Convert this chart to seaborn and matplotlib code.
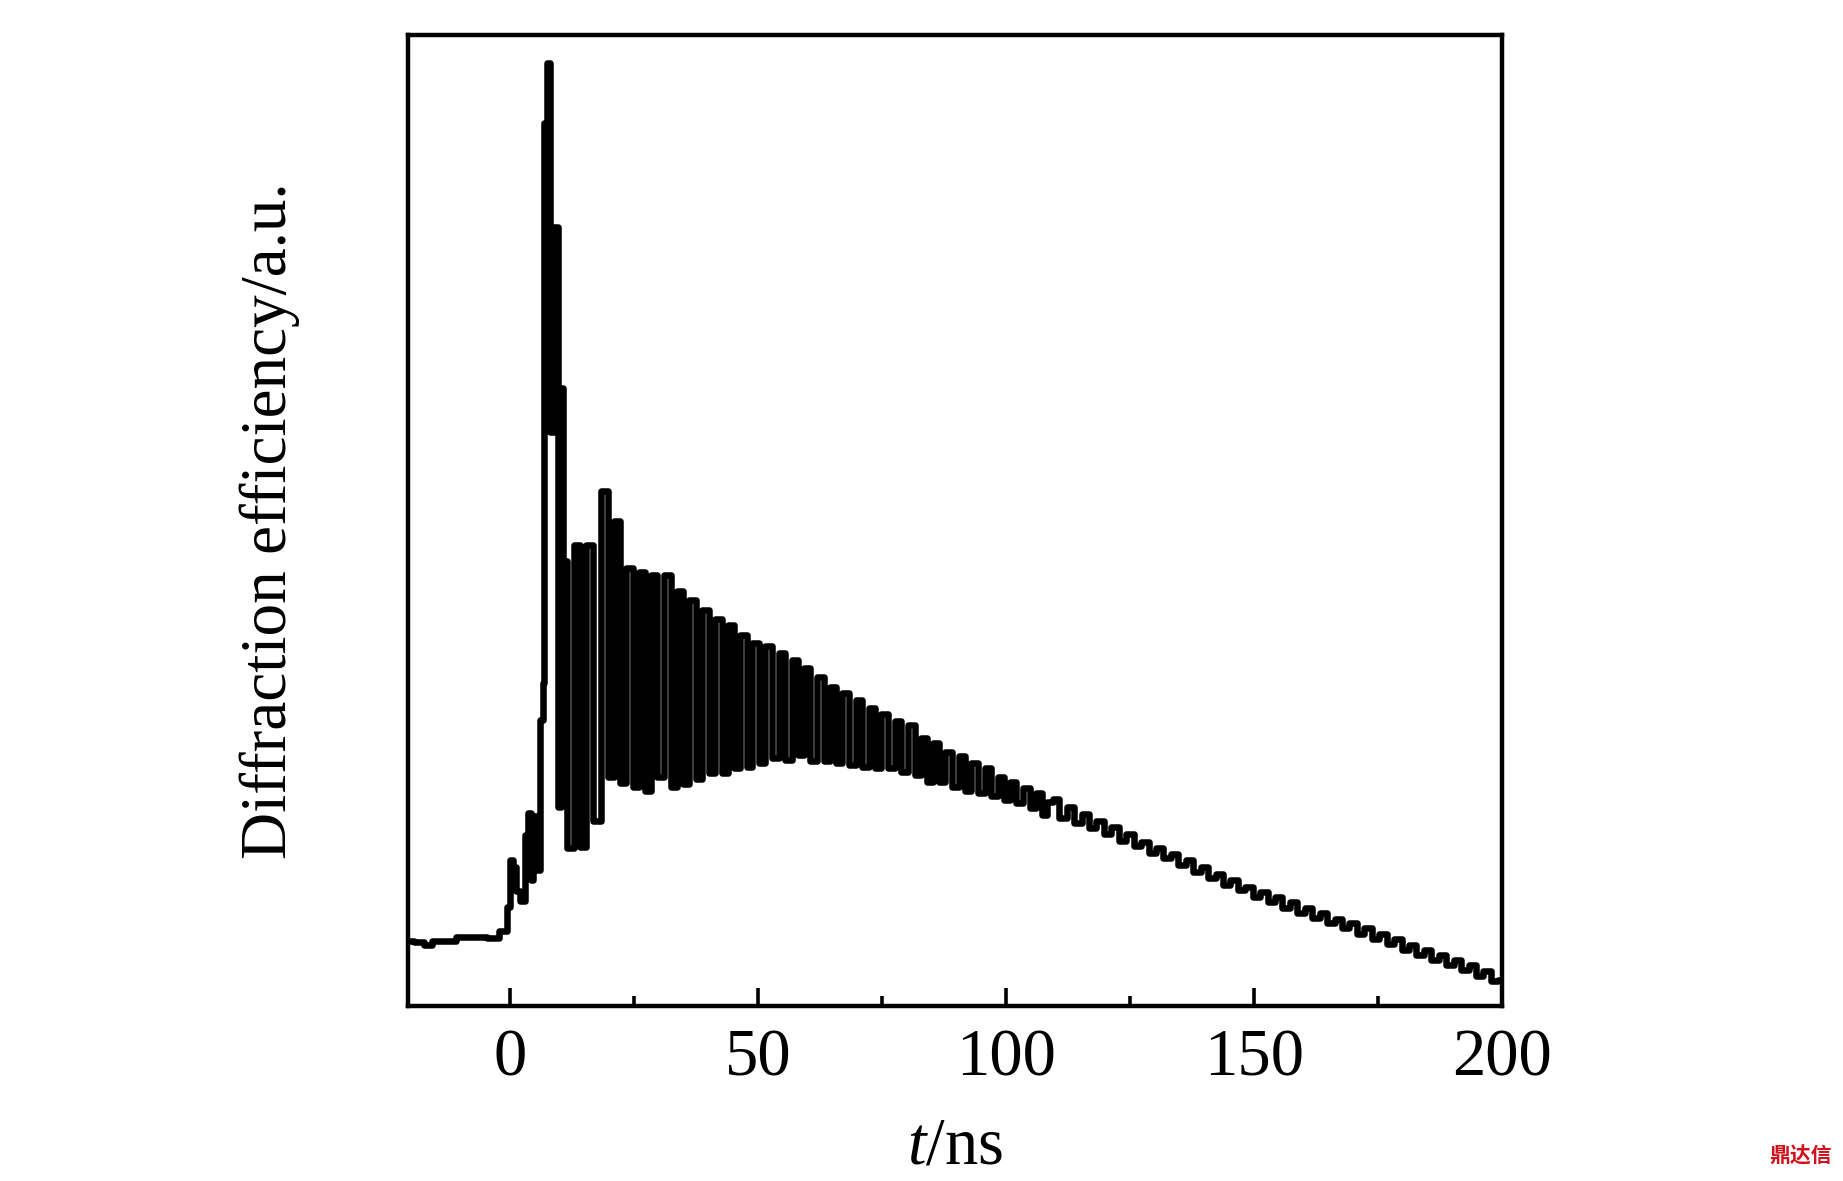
import numpy as np
import pandas as pd
import matplotlib
matplotlib.use("Agg")
import matplotlib.pyplot as plt
import seaborn as sns
from matplotlib.ticker import MultipleLocator

# Signal (t in ns, diffraction efficiency in a.u.)
# baseline and onset of the burst
t_start = [-20.5, -18.0, -16.5, -15.0, -12.0, -9.6, -6.0, -3.0, -1.2, -0.1, 0.4, 0.9, 1.5, 2.8,
           3.3, 4.0, 4.4, 5.1, 5.8, 6.5, 6.9, 7.1, 7.8, 8.5, 9.5, 10.1, 10.6, 11.0]
v_start = [0.067, 0.066, 0.063, 0.067, 0.067, 0.071, 0.071, 0.070, 0.077, 0.102, 0.150, 0.143, 0.118, 0.108,
           0.176, 0.199, 0.130, 0.196, 0.140, 0.295, 0.333, 0.909, 0.971, 0.591, 0.802, 0.205, 0.636, 0.458]

# oscillation maxima
t_peak = [13.7, 16.0, 19.2, 21.7, 24.1, 26.7, 29.1, 31.8, 34.4, 36.8, 39.5, 42.1, 44.5, 47.2, 49.5,
          52.2, 54.9, 57.5, 59.9, 62.6, 65.2, 67.6, 70.4, 73.0, 75.5, 78.3, 81.0, 83.4, 86.0, 88.4,
          91.1, 93.7, 96.4, 99.1, 101.4, 104.1, 106.8, 108.8]
v_peak = [0.475, 0.475, 0.530, 0.499, 0.451, 0.447, 0.444, 0.444, 0.427, 0.418, 0.408, 0.399, 0.392, 0.382, 0.374,
          0.371, 0.363, 0.356, 0.348, 0.339, 0.329, 0.322, 0.315, 0.307, 0.301, 0.293, 0.289, 0.276, 0.271, 0.262,
          0.257, 0.250, 0.245, 0.236, 0.231, 0.224, 0.219, 0.210]

# oscillation minima
t_trough = [12.0, 14.8, 17.5, 20.4, 22.9, 25.4, 27.9, 30.4, 33.1, 35.6, 38.1, 40.8, 43.3, 45.8, 48.3,
            50.8, 53.5, 56.2, 58.7, 61.2, 63.9, 66.4, 69.0, 71.7, 74.3, 77.0, 79.6, 82.2, 84.7, 87.2,
            89.8, 92.4, 95.1, 97.7, 100.3, 102.8, 105.5, 107.8]
v_trough = [0.163, 0.164, 0.191, 0.236, 0.230, 0.225, 0.221, 0.236, 0.226, 0.229, 0.234, 0.240, 0.240, 0.245, 0.246,
            0.250, 0.255, 0.253, 0.258, 0.252, 0.252, 0.250, 0.248, 0.246, 0.245, 0.245, 0.241, 0.238, 0.231, 0.231,
            0.226, 0.221, 0.219, 0.216, 0.212, 0.209, 0.204, 0.197]

# slow decay tail
t_tail = [110.0, 111.5, 113.0, 114.5, 116.0, 117.5, 119.0, 120.5, 122.0, 123.5, 125.0, 126.5, 128.0, 129.5,
          131.0, 132.5, 134.0, 135.5, 137.0, 138.5, 140.0, 141.5, 143.0, 144.5, 146.0, 147.5, 149.0, 150.5,
          152.0, 153.5, 155.0, 156.5, 158.0, 159.5, 161.0, 162.5, 164.0, 165.5, 167.0, 168.5, 170.0, 171.5,
          173.0, 174.5, 176.0, 177.5, 179.0, 180.5, 182.0, 183.5, 185.0, 186.5, 188.0, 189.5, 191.0, 192.5,
          194.0, 195.5, 197.0, 198.5, 200.0]
v_tail = [0.213, 0.194, 0.205, 0.188, 0.198, 0.183, 0.190, 0.177, 0.184, 0.170, 0.177, 0.165, 0.169, 0.158,
          0.163, 0.152, 0.156, 0.145, 0.150, 0.138, 0.143, 0.132, 0.136, 0.125, 0.130, 0.119, 0.123, 0.112,
          0.117, 0.107, 0.112, 0.101, 0.107, 0.096, 0.101, 0.091, 0.096, 0.085, 0.090, 0.080, 0.085, 0.074,
          0.080, 0.069, 0.074, 0.064, 0.069, 0.058, 0.063, 0.053, 0.058, 0.047, 0.053, 0.042, 0.047, 0.037,
          0.042, 0.031, 0.036, 0.026, 0.027]

x_ticks = [0, 50, 100, 150, 200]

df = pd.DataFrame({
    "t": t_start + t_peak + t_trough + t_tail,
    "eff": v_start + v_peak + v_trough + v_tail,
}).sort_values("t").reset_index(drop=True)

sns.set_style("ticks")
plt.rcParams["font.family"] = ["Liberation Serif", "DejaVu Serif"]
plt.rcParams["mathtext.fontset"] = "custom"
plt.rcParams["mathtext.rm"] = "Liberation Serif"
plt.rcParams["mathtext.it"] = "Liberation Serif:italic"
plt.rcParams["text.color"] = "black"
plt.rcParams["axes.labelcolor"] = "black"
plt.rcParams["xtick.color"] = "black"

fig = plt.figure(figsize=(18.43, 11.81), dpi=100)
ax = fig.add_axes([0.2214, 0.1482, 0.5936, 0.8222])

sns.lineplot(data=df, x="t", y="eff", ax=ax, color="black", linewidth=4.7,
             estimator=None, sort=False, drawstyle="steps-mid")

ax.set_xlim(-20.5, 200)
ax.set_ylim(0, 1)
ax.set_xticks(x_ticks)
ax.xaxis.set_minor_locator(MultipleLocator(25))
ax.set_yticks([])

for side in ["left", "right", "top", "bottom"]:
    ax.spines[side].set_linewidth(3.2)
    ax.spines[side].set_color("black")

ax.tick_params(axis="x", which="major", direction="in", length=13, width=2.6,
               labelsize=48, pad=16, top=False, colors="black")
ax.tick_params(axis="x", which="minor", direction="in", length=7, width=2.6, top=False, colors="black")

ax.set_xlabel(r"$\it{t}$/ns", fontsize=48, labelpad=20)
ax.set_ylabel("Diffraction efficiency/a.u.", fontsize=47, labelpad=78)

fig.text(0.994, 0.012, "鼎达信", color="#d0101a", fontsize=15, fontweight="bold",
         ha="right", va="bottom", family=["Noto Sans CJK SC", "DejaVu Sans"])

fig.savefig("out.png", dpi=100)
